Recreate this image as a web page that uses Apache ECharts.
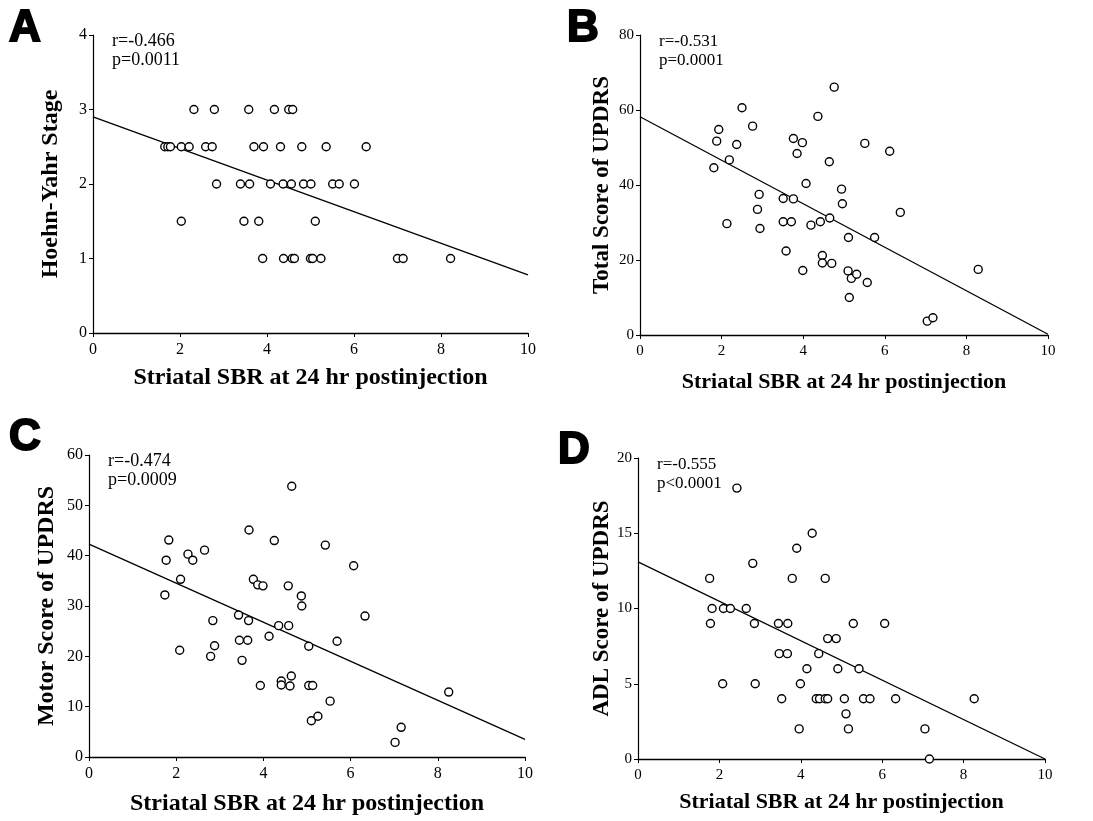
<!DOCTYPE html>
<html>
<head>
<meta charset="utf-8">
<title>SBR correlation</title>
<script src="https://cdn.jsdelivr.net/npm/echarts@6/dist/echarts.min.js"></script>
<style>
html,body{margin:0;padding:0;background:#fff;}
#main{width:1093px;height:821px;}
</style>
</head>
<body>
<div id="main"></div>
<script>
// A: Hoehn-Yahr stage
var sbrA = [2.32,2.79,3.58,4.17,4.50,4.59,
	1.65,1.72,1.78,2.03,2.21,2.59,2.74,3.70,3.92,4.31,4.80,5.36,6.28,
	2.84,3.39,3.60,4.08,4.37,4.56,4.84,5.01,5.51,5.66,6.01,
	2.03,3.47,3.81,5.11,
	3.90,4.38,4.58,4.63,5.00,5.05,5.24,7.00,7.13,8.22];
var stageA = [3,3,3,3,3,3,
	2.5,2.5,2.5,2.5,2.5,2.5,2.5,2.5,2.5,2.5,2.5,2.5,2.5,
	2,2,2,2,2,2,2,2,2,2,2,
	1.5,1.5,1.5,1.5,
	1,1,1,1,1,1,1,1,1,1];
var fitA = [[0,2.90],[10,0.78]];

// B: total UPDRS
var sbrB = [1.81,1.88,1.93,2.13,2.19,2.37,2.50,2.76,2.88,2.92,2.94,3.51,3.51,3.58,3.71,3.76,3.76,3.85,3.98,3.99,
	4.07,4.19,4.36,4.42,4.47,4.47,4.64,4.65,4.70,4.76,4.94,4.96,5.10,5.11,5.13,5.18,5.31,5.51,5.57,5.75,
	6.12,6.38,7.04,7.18,8.29];
var totalB = [44.6,51.7,54.8,29.7,46.7,50.8,60.6,55.7,33.5,37.5,28.4,36.4,30.2,22.4,30.2,36.3,52.4,48.4,51.3,17.2,
	40.4,29.3,58.3,30.2,21.2,19.2,46.2,31.2,19.1,66.1,38.9,35.0,17.1,26.0,10.0,15.1,16.2,51.1,14.0,26.0,
	49.0,32.7,3.7,4.6,17.5];
var fitB = [[0,58.2],[10,0.2]];

// C: motor UPDRS
var sbrC = [1.74,1.77,1.83,2.08,2.10,2.27,2.38,2.65,2.79,2.84,2.88,3.43,3.45,3.51,3.64,3.66,3.67,3.77,3.87,3.99,
	3.93,4.13,4.25,4.35,4.41,4.41,4.57,4.58,4.61,4.64,4.65,4.87,4.88,5.04,5.04,5.13,5.10,5.25,5.42,5.53,
	5.69,6.07,6.33,7.02,7.16,8.25];
var motorC = [32.2,39.1,43.1,21.2,35.3,40.3,39.1,41.1,20.0,27.1,22.1,28.2,23.2,19.2,23.2,27.1,45.1,35.3,34.2,34.0,
	14.2,24.0,43.0,26.1,15.1,14.3,34.0,26.1,14.1,16.1,53.8,32.0,30.0,22.0,14.2,14.2,7.2,8.1,42.1,11.1,
	23.0,38.0,28.0,2.9,5.9,12.9];
var fitC = [[0,42.3],[10,3.5]];

// D: ADL UPDRS
var sbrD = [1.76,1.78,1.82,2.08,2.10,2.27,2.43,2.66,2.82,2.86,2.88,3.45,3.47,3.53,3.67,3.68,3.79,3.90,3.96,3.99,
	4.15,4.28,4.38,4.44,4.46,4.60,4.60,4.66,4.66,4.87,4.91,5.07,5.11,5.17,5.29,5.43,5.54,5.70,6.06,6.33,
	7.05,7.16,8.26];
var adlD = [12,9,10,5,10,10,18,10,13,9,5,9,7,4,7,9,12,14,2,5,
	6,15,4,7,4,12,4,8,4,8,6,4,3,2,9,6,4,4,9,4,
	2,0,4];
var fitD = [[0,13.1],[10,0]];

var panelLetters = ['A','B','C','D'];
var yNames = ['Hoehn-Yahr Stage','Total Score of UPDRS','Motor Score of UPDRS','ADL Score of UPDRS'];
var xName = 'Striatal SBR at 24 hr postinjection';
var rTexts = ['r=-0.466','r=-0.531','r=-0.474','r=-0.555'];
var pTexts = ['p=0.0011','p=0.0001','p=0.0009','p<0.0001'];
var yMax = [4,80,60,20];
var yStep = [1,20,10,5];

var serif = "'Liberation Serif','Times New Roman',serif";

// pixel boxes of the four plots (left panels are printed a bit larger)
var boxes = [
	{left:93, top:35, width:435, height:298},
	{left:640, top:35, width:408, height:300},
	{left:89, top:455, width:436, height:302},
	{left:638, top:458, width:407, height:301}
];
var letterPos = [[8,6],[566,6],[8,415],[557,428]];
var xTitleSize = [24,22,24,22];
var yTitleSize = [24,23,24,23];
var tickSize = [16,15,16,15];
var statSize = [18,17,18,17];
var xGap = [33,36,35,32];
var yGap = [30,26,30,24];

function zip(xs, ys){
	var out = [];
	for(var i = 0; i < xs.length; i++){
		out.push([xs[i], ys[i]]);
	}
	return out;
}

var pts = [zip(sbrA,stageA), zip(sbrB,totalB), zip(sbrC,motorC), zip(sbrD,adlD)];
var fits = [fitA, fitB, fitC, fitD];

var grids = [], xAxes = [], yAxes = [], series = [], graphics = [];
for(var i = 0; i < 4; i++){
	grids.push(boxes[i]);
	xAxes.push({
		type:'value', gridIndex:i, min:0, max:10, interval:2,
		name:xName, nameLocation:'middle', nameGap:xGap[i],
		nameTextStyle:{fontFamily:serif, fontWeight:'bold', fontSize:xTitleSize[i], color:'#000'},
		axisLine:{lineStyle:{color:'#000', width:1.4}},
		axisTick:{show:true, length:4, lineStyle:{color:'#000'}},
		axisLabel:{fontFamily:serif, fontSize:tickSize[i], color:'#000', margin:9},
		splitLine:{show:false}
	});
	yAxes.push({
		type:'value', gridIndex:i, min:0, max:yMax[i], interval:yStep[i],
		name:yNames[i], nameLocation:'middle', nameGap:yGap[i],
		nameTextStyle:{fontFamily:serif, fontWeight:'bold', fontSize:yTitleSize[i], color:'#000'},
		axisLine:{show:true, lineStyle:{color:'#000', width:1.2}},
		axisTick:{show:true, length:4, lineStyle:{color:'#000'}},
		axisLabel:{fontFamily:serif, fontSize:tickSize[i], color:'#000', margin:6},
		splitLine:{show:false}
	});
	series.push({
		type:'line', xAxisIndex:i, yAxisIndex:i, data:fits[i],
		showSymbol:false, symbol:'none', silent:true,
		lineStyle:{color:'#000', width:1.3}, z:1
	});
	series.push({
		type:'scatter', xAxisIndex:i, yAxisIndex:i, data:pts[i],
		symbol:'circle', symbolSize:8,
		itemStyle:{color:'#fff', borderColor:'#000', borderWidth:1.4, opacity:1}, z:2
	});
	graphics.push({
		type:'text', left:letterPos[i][0], top:letterPos[i][1],
		style:{text:panelLetters[i], font:"bold 44px 'Liberation Sans', Arial, sans-serif",
			fill:'#000', stroke:'#000', lineWidth:2}
	});
	graphics.push({
		type:'text', left:boxes[i].left + 19, top:boxes[i].top - 3,
		style:{text:rTexts[i] + '\n' + pTexts[i], font:statSize[i] + "px " + serif, fill:'#000', lineHeight:19}
	});
}

var myChart = echarts.init(document.getElementById('main'));
var option = {
	backgroundColor:'#fff',
	animation:false,
	grid:grids,
	xAxis:xAxes,
	yAxis:yAxes,
	series:series,
	graphic:graphics
};
myChart.setOption(option);
</script>
</body>
</html>
